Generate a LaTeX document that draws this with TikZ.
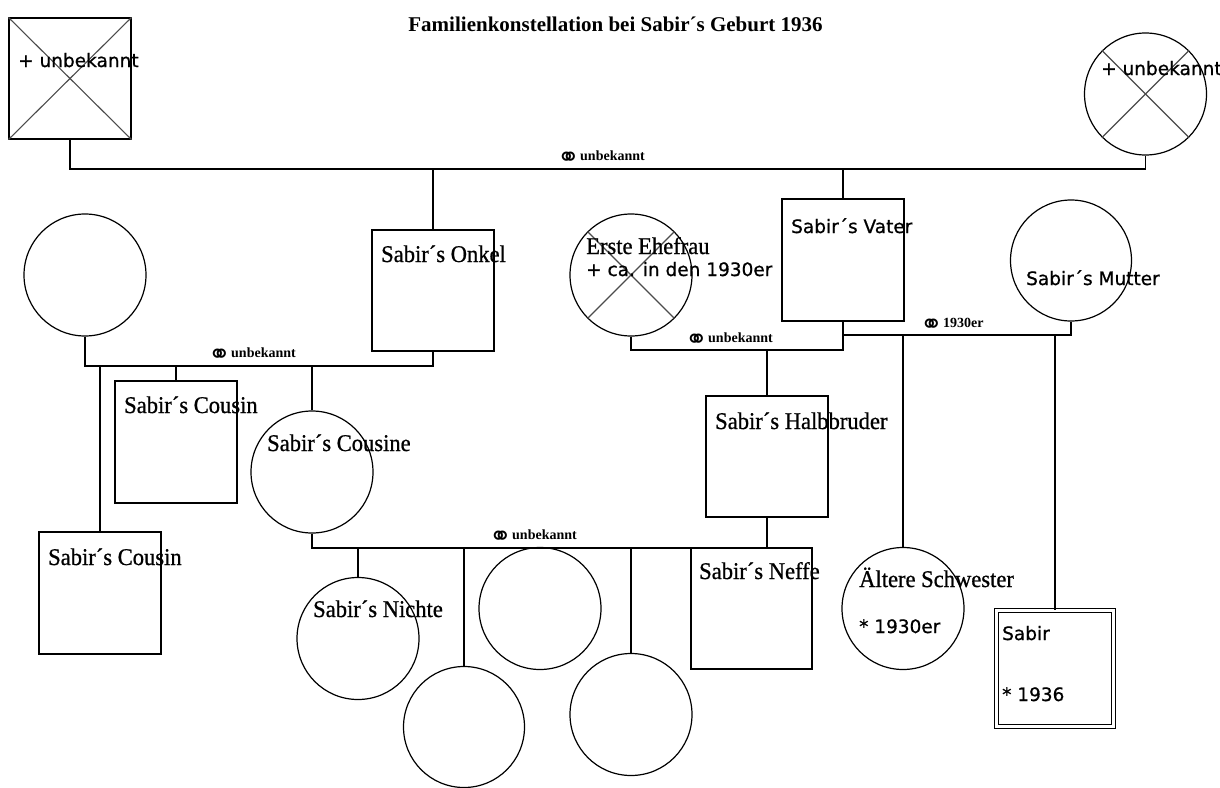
\documentclass[tikz,border=0pt]{standalone}
\usepackage{fontspec}
\setmainfont{Liberation Serif}
\newfontfamily\labelfont[FakeStretch=0.94,FakeBold=0.8]{Liberation Serif}
\newfontfamily\dejavu[FakeBold=0.8]{DejaVu Sans}
\newfontfamily\ringfont{DejaVu Sans}
\newcommand{\ehe}{\makebox[23pt][l]{\raisebox{-6pt}{\ringfont\fontsize{27}{27}\selectfont ⚭}}}
\tikzset{
  mann/.style={rectangle,draw,line width=1.2pt,minimum width=122pt,minimum height=122pt,inner sep=0pt},
  frau/.style={circle,draw,line width=1.2pt,minimum size=122pt,inner sep=0pt},
  kreuz/.style={line width=1.1pt,black!70},
  linie/.style={line width=1.2pt},
  beschr/.style={anchor=base west,inner sep=0pt,font=\labelfont\fontsize{24}{28}\selectfont},
  beschrsans/.style={anchor=base west,inner sep=0pt,font=\dejavu\fontsize{18.5}{22}\selectfont},
  heirat/.style={anchor=base west,inner sep=0pt,font=\bfseries\fontsize{14}{16}\selectfont},
}
\begin{document}
\begin{tikzpicture}[x=1pt,y=-1pt]
        \fill[white] (0,0) rectangle (1220,787);
        \useasboundingbox (0,0) rectangle (1220,787);
        \node[anchor=base,inner sep=0pt,font=\bfseries\fontsize{21}{25}\selectfont] at (615.5,31) (titel) {Familienkonstellation bei Sabir´s Geburt 1936};
        \node[mann,minimum height=121pt] at (70,78.5) (grossvater) {};
        \node[frau] at (1145.5,94) (grossmutter) {};
        \draw[kreuz] (grossvater.north west) -- (grossvater.south east);
        \draw[kreuz] (grossvater.south west) -- (grossvater.north east);
        \draw[kreuz] (grossmutter.45) -- (grossmutter.225);
        \draw[kreuz] (grossmutter.135) -- (grossmutter.-45);
        \node[beschrsans] at (18,67) (t_grossvater) {+ unbekannt};
        \node[beschrsans] at (1101,75) (t_grossmutter) {+ unbekannt};
        \node[frau] at (85,275) (tante) {};
        \node[mann,minimum height=121pt] at (433,290.5) (onkel) {};
        \node[frau] at (631,275) (erste) {};
        \draw[kreuz] (erste.45) -- (erste.225);
        \draw[kreuz] (erste.135) -- (erste.-45);
        \node[mann] at (843,260) (vater) {};
        \node[frau,minimum size=121pt] at (1071,260.5) (mutter) {};
        \node[beschr] at (381,262) (t_onkel) {Sabir´s Onkel};
        \node[beschrsans] at (791,233) (t_vater) {Sabir´s Vater};
        \node[beschr] at (586,254) (t_erste) {Erste Ehefrau};
        \node[beschrsans] at (586,276) (t_erste2) {+ ca. in den 1930er};
        \node[beschrsans] at (1026,285) (t_mutter) {Sabir´s Mutter};
        \node[mann] at (176,442) (cousin1) {};
        \node[frau] at (312,472) (cousine) {};
        \node[mann,minimum height=121pt] at (767,456.5) (halbbruder) {};
        \node[mann] at (100,593) (cousin2) {};
        \node[beschr] at (124,413) (t_cousin1) {Sabir´s Cousin};
        \node[beschr] at (267,451) (t_cousine) {Sabir´s Cousine};
        \node[beschr] at (715,429) (t_halbbruder) {Sabir´s Halbbruder};
        \node[beschr] at (48,565) (t_cousin2) {Sabir´s Cousin};
        \node[frau] at (358,638.5) (nichte) {};
        \node[frau,minimum size=121pt] at (464,727) (kind1) {};
        \node[frau] at (540,608.5) (kind2) {};
        \node[frau] at (631,714.5) (kind3) {};
        \node[mann,minimum width=121pt,minimum height=121pt] at (751.5,608.5) (neffe) {};
        \node[frau] at (903,608.5) (schwester) {};
        \node[mann,double,double distance=3.5pt,minimum width=117pt,minimum height=116pt] at (1055,668.5) (sabir) {};
        \node[beschr] at (313,617) (t_nichte) {Sabir´s Nichte};
        \node[beschr] at (699,579) (t_neffe) {Sabir´s Neffe};
        \node[beschr] at (859,587) (t_schwester) {Ältere Schwester};
        \node[beschrsans] at (859,633) (t_schwester2) {* 1930er};
        \node[beschrsans] at (1002,640) (t_sabir) {Sabir};
        \node[beschrsans] at (1002,701) (t_sabir2) {* 1936};
        \coordinate (ehe1) at (0,169);
        \coordinate (ehe2) at (0,366);
        \coordinate (ehe3) at (0,350);
        \coordinate (ehe4) at (0,335);
        \coordinate (ehe5) at (0,548);
        \draw[linie] (grossvater.south) -- (grossvater.south |- ehe1) -- (grossmutter.south |- ehe1) -- (grossmutter.south);
        \draw[linie] (onkel.north) -- (onkel.north |- ehe1);
        \draw[linie] (vater.north) -- (vater.north |- ehe1);
        \node[heirat] at (557,160) (h_eltern) {\ehe{}unbekannt};
        \draw[linie] (tante.south) -- (tante.south |- ehe2) -- (onkel.south |- ehe2) -- (onkel.south);
        \draw[linie] (cousin2.north) -- (cousin2.north |- ehe2);
        \draw[linie] (cousin1.north) -- (cousin1.north |- ehe2);
        \draw[linie] (cousine.north) -- (cousine.north |- ehe2);
        \node[heirat] at (208,357) (h_onkel) {\ehe{}unbekannt};
        \draw[linie] (erste.south) -- (erste.south |- ehe3) -- (vater.south |- ehe3) -- (vater.south);
        \draw[linie] (vater.south |- ehe4) -- (mutter.south |- ehe4) -- (mutter.south);
        \draw[linie] (halbbruder.north) -- (halbbruder.north |- ehe3);
        \draw[linie] (schwester.north) -- (schwester.north |- ehe4);
        \draw[linie] (sabir.north) -- (sabir.north |- ehe4);
        \node[heirat] at (685,342) (h_erste) {\ehe{}unbekannt};
        \node[heirat] at (920,327) (h_mutter) {\ehe{}1930er};
        \draw[linie] (cousine.south) -- (cousine.south |- ehe5) -- (halbbruder.south |- ehe5) -- (halbbruder.south);
        \draw[linie] (nichte.north) -- (nichte.north |- ehe5);
        \draw[linie] (kind1.north) -- (kind1.north |- ehe5);
        \draw[linie] (kind3.north) -- (kind3.north |- ehe5);
        \node[heirat] at (489,539) (h_halbbruder) {\ehe{}unbekannt};
    \end{tikzpicture}
\end{document}
